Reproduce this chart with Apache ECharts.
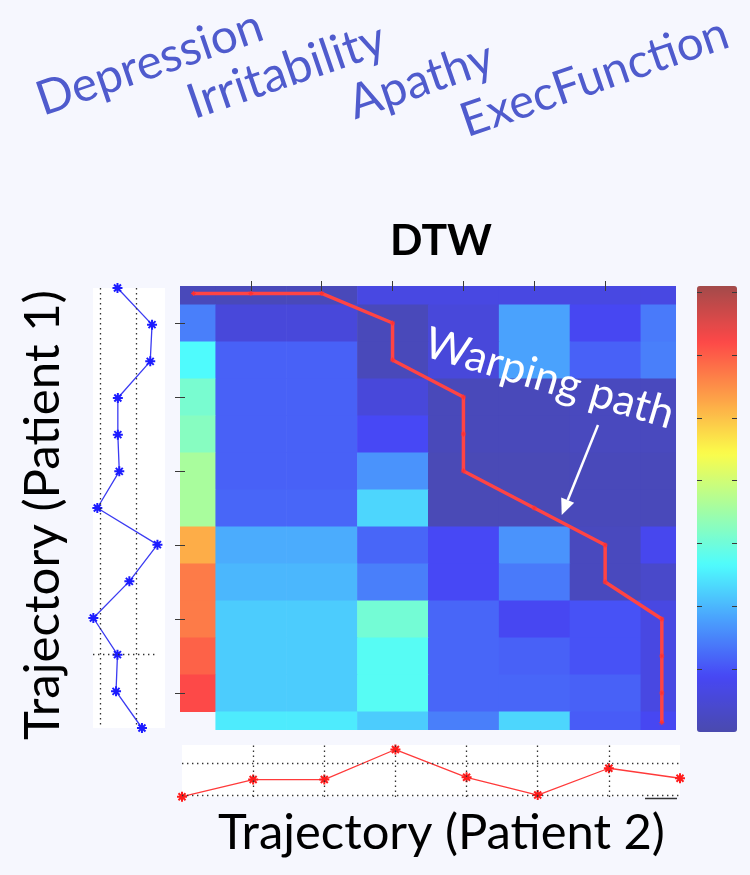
<!DOCTYPE html>
<html>
<head>
<meta charset="utf-8">
<script src="https://cdn.jsdelivr.net/npm/echarts@6/dist/echarts.min.js"></script>
<style>
html,body{margin:0;padding:0;background:#f6f7fe;}
#main{width:750px;height:875px;}
</style>
</head>
<body>
<div id="main"></div>
<script>
// ---------------- DATA ----------------
var variableNames = ['Depression', 'Irritability', 'Apathy', 'ExecFunction'];
var chartTitle = 'DTW';
var xAxisTitle = 'Trajectory (Patient 2)';
var yAxisTitle = 'Trajectory (Patient 1)';
var annotationText = 'Warping path';

// Patient 1 trajectory (vertical, 13 time points)
var patient1Steps = [0, 1, 2, 3, 4, 5, 6, 7, 8, 9, 10, 11, 12];
var patient1Values = [0.48, 1.44, 1.39, 0.49, 0.49, 0.53, -0.08, 1.59, 0.81, -0.19, 0.48, 0.44, 1.16];

// Patient 2 trajectory (horizontal, 8 time points)
var patient2Steps = [0, 1, 2, 3, 4, 5, 6, 7];
var patient2Values = [-0.05, 0.48, 0.48, 1.41, 0.55, 0.0, 0.83, 0.52];

// DTW cost matrix: rows = Patient 1 steps, cols = Patient 2 steps
var dtwMatrix = [
  [0.15, 0.15, 0.15, 0.65, 0.65, 0.65, 0.65, 0.65],
  [1.45, 0.55, 0.55, 0.15, 0.55, 1.80, 0.85, 1.40],
  [2.65, 1.15, 1.15, 0.15, 0.55, 1.80, 1.15, 1.45],
  [3.10, 1.15, 1.15, 0.55, 0.15, 0.15, 0.20, 0.20],
  [3.25, 1.15, 1.15, 0.90, 0.15, 0.15, 0.20, 0.20],
  [3.60, 1.15, 1.15, 1.65, 0.10, 0.10, 0.15, 0.15],
  [3.60, 1.20, 1.20, 2.30, 0.10, 0.10, 0.15, 0.15],
  [5.20, 1.90, 1.90, 1.20, 0.90, 1.65, 0.20, 0.80],
  [5.70, 2.00, 2.00, 1.45, 0.90, 1.40, 0.20, 0.35],
  [5.70, 2.20, 2.20, 3.05, 1.20, 0.85, 1.00, 0.65],
  [5.95, 2.20, 2.20, 2.75, 1.20, 1.15, 1.00, 0.65],
  [6.20, 2.20, 2.20, 2.75, 1.20, 1.20, 1.15, 0.65],
  [null, 2.50, 2.50, 2.20, 1.45, 2.30, 1.10, 0.85]
];

// Warping path (column index on Patient 2, row index on Patient 1)
var pathCols = [0.19, 1, 2, 3, 3, 4, 4, 4, 5, 6, 6, 6.8, 6.8, 6.8, 6.8];
var pathRows = [0.2, 0.2, 0.2, 1, 2, 3, 4, 5, 6, 7, 8, 9, 10, 11, 11.8];

// Axis ticks
var heatXTicks = [1, 2, 3, 4, 5, 6];
var heatYTicks = [1, 3, 5, 7, 9, 11];
var colorbarMin = 0;
var colorbarMax = 7.1;
var colorbarTicks = [1, 2, 3, 4, 5, 6, 7];
var p1GridValues = [0, 1];
var p1GridStep = 10;
var p2GridSteps = [1, 2, 3, 4, 5, 6];
var p2GridValues = [0, 1];

// ---------------- BUILD ----------------
var heatData = [];
dtwMatrix.forEach(function (row, r) {
  row.forEach(function (v, c) {
    if (v !== null) heatData.push([c, r, v]);
  });
});
var pathData = pathCols.map(function (c, i) { return [c, pathRows[i]]; });
var p1Data = patient1Values.map(function (v, i) { return [v, patient1Steps[i]]; });
var p2Data = patient2Values.map(function (v, i) { return [patient2Steps[i], v]; });

var jet = ['#4a4aae', '#4747f5', '#4a9ffd', '#4ffcfd', '#a4fda2', '#fbfc4a', '#fda048', '#fd4848', '#a34a4a'];
var star = 'path://M5,0L5,10M0,5L10,5M1.5,1.5L8.5,8.5M1.5,8.5L8.5,1.5';
var FONT = 'Lato';

function fit(text, weight, target) {
  var ctx = document.createElement('canvas').getContext('2d');
  ctx.font = weight + ' 100px ' + FONT;
  return 100 * target / ctx.measureText(text).width;
}

function tickAxis(dim, grid, pos, min, max, inverse, ticks) {
  return {
    gridIndex: grid, type: 'value', position: pos, min: min, max: max,
    inverse: !!inverse, z: 6,
    axisLine: {show: false},
    axisLabel: {show: false},
    splitLine: {show: false},
    axisTick: {show: true, inside: true, length: 5, customValues: ticks,
      lineStyle: {color: '#3a3a3a', width: 1}}
  };
}
function hiddenAxis(grid, min, max, inverse) {
  return {gridIndex: grid, type: 'value', min: min, max: max, inverse: !!inverse, show: false};
}

var dotStyle = {type: [1.4, 3.6], color: '#333', width: 1.3};

var texts = [];
var labelPos = [[44, 118.5, 236], [195, 122, 206], [356, 122, 150], [468, 140, 280]];
variableNames.forEach(function (name, i) {
  var fs = fit(name, 'normal', labelPos[i][2]);
  texts.push({
    type: 'text', x: labelPos[i][0], y: labelPos[i][1], rotation: 19 * Math.PI / 180, z: 100,
    style: {text: name, x: 0, y: -0.38 * fs, fontSize: fs, fontFamily: FONT, fill: '#4f5bcd',
      align: 'left', textAlign: 'left', verticalAlign: 'middle', textVerticalAlign: 'middle'}
  });
});
var fsT = fit(chartTitle, 'bold', 102);
texts.push({type: 'text', x: 441, y: 257, z: 100,
  style: {text: chartTitle, x: 0, y: -0.38 * fsT, fontSize: fsT, fontWeight: 'bold', fontFamily: FONT, fill: '#000',
    align: 'center', textAlign: 'center', verticalAlign: 'middle', textVerticalAlign: 'middle'}});
var fsX = fit(xAxisTitle, 'normal', 447);
texts.push({type: 'text', x: 441.5, y: 852, z: 100,
  style: {text: xAxisTitle, x: 0, y: -0.38 * fsX, fontSize: fsX, fontFamily: FONT, fill: '#000',
    align: 'center', textAlign: 'center', verticalAlign: 'middle', textVerticalAlign: 'middle'}});
var fsY = fit(yAxisTitle, 'normal', 450);
texts.push({type: 'text', x: 62, y: 515, rotation: Math.PI / 2, z: 100,
  style: {text: yAxisTitle, x: 0, y: -0.38 * fsY, fontSize: fsY, fontFamily: FONT, fill: '#000',
    align: 'center', textAlign: 'center', verticalAlign: 'middle', textVerticalAlign: 'middle'}});
var fsW = fit(annotationText, 'normal', 258);
texts.push({type: 'text', x: 421, y: 358, rotation: -16.5 * Math.PI / 180, z: 100,
  style: {text: annotationText, x: 0, y: -0.38 * fsW, fontSize: fsW, fontFamily: FONT, fill: '#ffffff',
    align: 'left', textAlign: 'left', verticalAlign: 'middle', textVerticalAlign: 'middle'}});
// arrow
texts.push({type: 'line', z: 100, shape: {x1: 598, y1: 425, x2: 567.7, y2: 500.2},
  style: {stroke: '#ffffff', lineWidth: 2.5}});
texts.push({type: 'polygon', z: 100, shape: {points: [[561.7, 515], [574.2, 502.8], [561.2, 497.6]]},
  style: {fill: '#ffffff'}});
// short black bar at lower-right of bottom plot
texts.push({type: 'line', z: 100, shape: {x1: 645, y1: 798.5, x2: 677, y2: 798.5},
  style: {stroke: '#333', lineWidth: 1.5}});

var option = {
  animation: false,
  backgroundColor: '#f6f7fe',
  grid: [
    {left: 180, top: 286, width: 496, height: 444, outerBoundsMode: 'none'},
    {left: 93, top: 288, width: 72, height: 440, show: true, backgroundColor: '#ffffff', borderWidth: 0, outerBoundsMode: 'none'},
    {left: 182, top: 745, width: 498, height: 52, show: true, backgroundColor: '#ffffff', borderWidth: 0, outerBoundsMode: 'none'},
    {left: 697, top: 286, width: 40, height: 446, outerBoundsMode: 'none'}
  ],
  xAxis: [
    tickAxis('x', 0, 'bottom', 0, 7, false, heatXTicks),
    tickAxis('x', 0, 'top', 0, 7, false, heatXTicks),
    hiddenAxis(1, -0.2, 1.8),
    hiddenAxis(2, 0, 7),
    hiddenAxis(3, 0, 1)
  ],
  yAxis: [
    tickAxis('y', 0, 'left', 0, 12, true, heatYTicks),
    tickAxis('y', 0, 'right', 0, 12, true, heatYTicks),
    hiddenAxis(1, 0, 12, true),
    hiddenAxis(2, -0.06, 1.55),
    tickAxis('y', 3, 'left', colorbarMin, colorbarMax, false, colorbarTicks),
    tickAxis('y', 3, 'right', colorbarMin, colorbarMax, false, colorbarTicks)
  ],
  visualMap: {
    type: 'continuous', seriesIndex: 0, dimension: 2,
    min: colorbarMin, max: colorbarMax, calculable: false,
    left: 697, top: 286, itemWidth: 40, itemHeight: 446, padding: 0,
    inRange: {color: jet}, showLabel: false, text: null, hoverLink: false
  },
  graphic: {elements: texts},
  series: [
    {
      type: 'custom', xAxisIndex: 0, yAxisIndex: 0, data: heatData, silent: true,
      encode: {x: 0, y: 1},
      renderItem: function (params, api) {
        var c = api.value(0), r = api.value(1);
        var p0 = api.coord([c - 0.5, r - 0.5]);
        var p1 = api.coord([c + 0.5, r + 0.5]);
        var cs = params.coordSys;
        var rect = echarts.graphic.clipRectByRect({
          x: Math.min(p0[0], p1[0]), y: Math.min(p0[1], p1[1]),
          width: Math.abs(p1[0] - p0[0]) + 0.6, height: Math.abs(p1[1] - p0[1]) + 0.6
        }, {x: cs.x, y: cs.y, width: cs.width, height: cs.height});
        if (!rect) return;
        return {type: 'rect', shape: rect, style: {fill: api.visual('color')}};
      }
    },
    {
      type: 'line', xAxisIndex: 0, yAxisIndex: 0, data: pathData, z: 10, silent: true,
      lineStyle: {color: '#ff4444', width: 3.5},
      symbol: star, symbolSize: 5,
      itemStyle: {color: '#ff4444', borderColor: '#ff3030', borderWidth: 1}
    },
    {
      type: 'line', xAxisIndex: 2, yAxisIndex: 2, data: p1Data, silent: true, clip: false,
      lineStyle: {color: '#3b3bf2', width: 1.3},
      symbol: star, symbolSize: 10,
      itemStyle: {color: '#1c1cff', borderColor: '#1c1cff', borderWidth: 2},
      markLine: {
        silent: true, symbol: 'none', label: {show: false}, lineStyle: dotStyle,
        data: [{xAxis: p1GridValues[0]}, {xAxis: p1GridValues[1]},
          [{coord: [-0.2, p1GridStep]}, {coord: [1.6, p1GridStep]}]]
      }
    },
    {
      type: 'line', xAxisIndex: 3, yAxisIndex: 3, data: p2Data, silent: true, clip: false,
      lineStyle: {color: '#ff3a3a', width: 1.3},
      symbol: star, symbolSize: 10,
      itemStyle: {color: '#ff1c1c', borderColor: '#ff1c1c', borderWidth: 2},
      markLine: {
        silent: true, symbol: 'none', label: {show: false}, lineStyle: dotStyle,
        data: p2GridSteps.map(function (s) { return {xAxis: s}; })
          .concat(p2GridValues.map(function (v) { return {yAxis: v}; }))
      }
    }
  ]
};

var chart = echarts.init(document.getElementById('main'), null, {renderer: 'canvas'});
chart.setOption(option);
</script>
</body>
</html>
